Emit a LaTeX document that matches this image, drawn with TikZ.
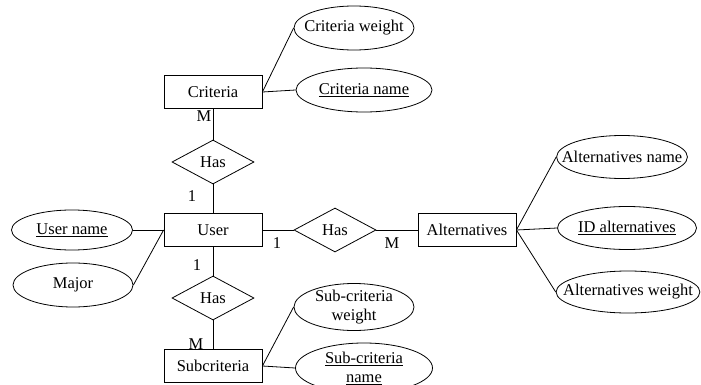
\documentclass[tikz,border=0pt]{standalone}
\usepackage{fontspec}
\setmainfont{Liberation Serif}
\usetikzlibrary{shapes.geometric, positioning}
\tikzstyle{entity} = [rectangle, draw, minimum width=98pt, minimum height=33pt, text centered, inner sep=0pt]
\tikzstyle{relation} = [diamond, draw, aspect=1.9, minimum width=82pt, minimum height=44pt, inner sep=0pt]
\tikzstyle{attrib} = [ellipse, draw, inner xsep=-14pt, inner ysep=-4pt, align=center]
\tikzstyle{card} = [inner sep=0pt]
\tikzstyle{link} = [line width=0.8pt]

\begin{document}
\begin{tikzpicture}[x=1pt, y=-1pt, font=\fontsize{16.5}{19}\selectfont, line width=0.8pt]
    \useasboundingbox (0,0) rectangle (701,385);
    % Entities
    \node[entity] (crit) at (213, 92) {Criteria};
    \node[entity] (user) at (213, 230) {User};
    \node[entity] (alt) at (467, 230) {Alternatives};
    \node[entity] (sub) at (213, 366) {Subcriteria};

    % Relations
    \node[relation] (has1) at (213, 162) {Has};
    \node[relation] (has2) at (335, 230) {Has};
    \node[relation] (has3) at (213, 298) {Has};

    % Attributes
    \node[attrib, minimum width=120pt, minimum height=44pt] (cweight) at (354, 28) {Criteria weight};
    \node[attrib, minimum width=136pt, minimum height=44pt] (cname) at (364, 90) {\underline{Criteria name}};
    \node[attrib, minimum width=121pt, minimum height=40pt] (uname) at (72, 230) {\underline{User name}};
    \node[attrib, minimum width=120pt, minimum height=44pt] (major) at (73, 285) {Major};
    \node[attrib, minimum width=129pt, minimum height=43pt] (aname) at (622, 157) {Alternatives name};
    \node[attrib, minimum width=139pt, minimum height=43pt] (aid) at (627, 228) {\underline{ID alternatives}};
    \node[attrib, minimum width=143pt, minimum height=42pt] (aweight) at (628, 292) {Alternatives weight};
    \node[attrib, minimum width=120pt, minimum height=47pt] (sweight) at (354, 307) {Sub-criteria\\weight};
    \node[attrib, minimum width=137pt, minimum height=50pt] (sname) at (364, 368) {\underline{Sub-criteria}\\\underline{name}};

    % Cardinalities
    \node[card] (m1) at (204, 116) {M};
    \node[card] (o1) at (192, 196) {1};
    \node[card] (o2) at (277, 243) {1};
    \node[card] (m2) at (392, 243) {M};
    \node[card] (o3) at (197, 265) {1};
    \node[card] (m3) at (196, 344) {M};

    % Lines
    \draw[link] (crit) -- (has1);
    \draw[link] (has1) -- (user);
    \draw[link] (user) -- (has2);
    \draw[link] (has2) -- (alt);
    \draw[link] (user) -- (has3);
    \draw[link] (has3) -- (sub);
    \draw[link] (crit.east) -- (cweight.west);
    \draw[link] (crit.east) -- (cname.west);
    \draw[link] (uname.east) -- (user.west);
    \draw[link] (major.east) -- (user.west);
    \draw[link] (alt.east) -- (aname.west);
    \draw[link] (alt.east) -- (aid.west);
    \draw[link] (alt.east) -- (aweight.west);
    \draw[link] (sub.east) -- (sweight.west);
    \draw[link] (sub.east) -- (sname.west);
\end{tikzpicture}
\end{document}
